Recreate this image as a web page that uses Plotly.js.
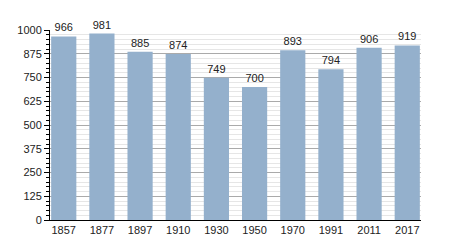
<!DOCTYPE html>
<html><head><meta charset="utf-8">
<script src="https://cdn.plot.ly/plotly-3.0.1.min.js"></script>
<style>html,body{margin:0;padding:0;background:#fff}#c{width:450px;height:250px}</style>
</head><body><div id="c"></div>
<script>
const years = ["1857","1877","1897","1910","1930","1950","1970","1991","2011","2017"];
const population = [966, 981, 885, 874, 749, 700, 893, 794, 906, 919];
const yTicks = [0,125,250,375,500,625,750,875,1000];

const trace = {
  type: 'bar',
  x: years,
  y: population,
  width: 0.66,
  marker: {color: '#94b0cc', line: {width: 0}},
  text: population.map(String),
  textposition: 'outside',
  cliponaxis: false,
  textfont: {family: 'Liberation Sans, Arial, sans-serif', size: 11, color: '#222'},
  hoverinfo: 'none'
};
const layout = {
  width: 450, height: 250,
  margin: {l: 50, r: 29, t: 30, b: 30},
  paper_bgcolor: '#fff', plot_bgcolor: '#fff',
  showlegend: false,
  font: {family: 'Liberation Sans, Arial, sans-serif', size: 11, color: '#222'},
  xaxis: {
    type: 'category', range: [-0.36, 9.36],
    showgrid: false, zeroline: false,
    showline: true, linecolor: '#000', linewidth: 1,
    ticks: '', tickfont: {size: 11, color: '#222'}
  },
  yaxis: {
    range: [0, 1000], tickvals: yTicks, ticktext: yTicks.map(String),
    showgrid: true, gridcolor: '#aaa', gridwidth: 1,
    zeroline: false, showline: true, linecolor: '#000', linewidth: 1,
    ticks: 'outside', ticklen: 5, tickcolor: '#000', tickwidth: 1,
    tickfont: {size: 11, color: '#222'},
    minor: {dtick: 25, tick0: 0, ticks: 'outside', ticklen: 3, tickcolor: '#000', showgrid: true, gridcolor: '#e6e6e6', gridwidth: 1}
  },
  bargap: 0.3
};
Plotly.newPlot('c', [trace], layout, {staticPlot: true, displayModeBar: false});
</script></body></html>
